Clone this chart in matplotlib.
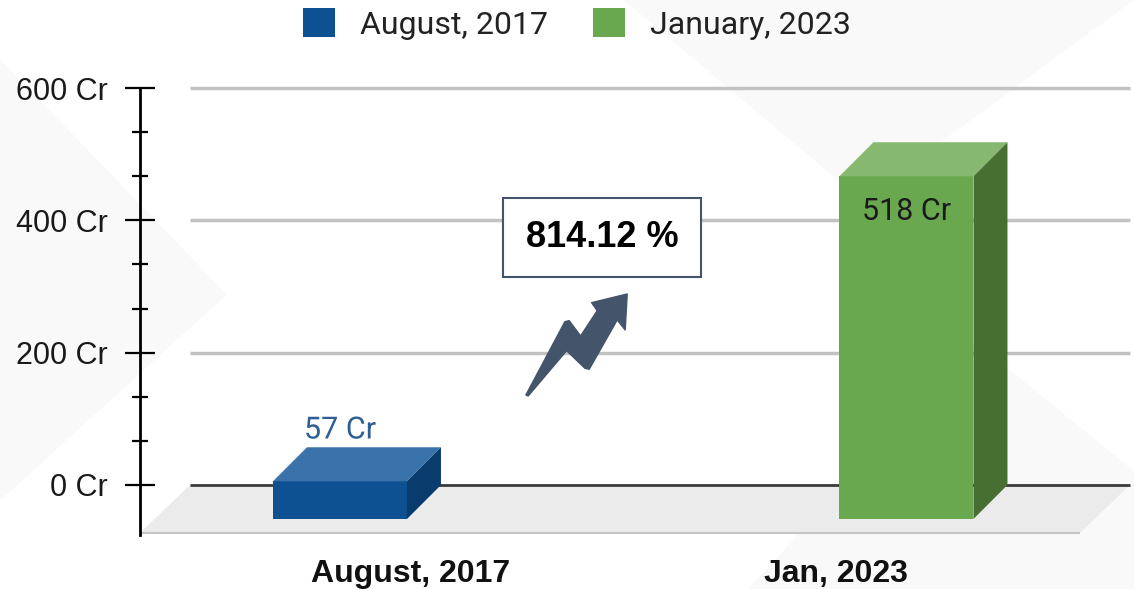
import matplotlib
matplotlib.use("Agg")
import matplotlib.pyplot as plt
import matplotlib.patheffects as pe
from matplotlib.patches import Polygon, Patch
from matplotlib.transforms import Affine2D, ScaledTranslation

# values in crore
categories = ["August, 2017", "Jan, 2023"]
series_names = ["August, 2017", "January, 2023"]
values = [57, 518]
value_labels = ["57 Cr", "518 Cr"]
growth_label = "814.12 %"
yticks = [0, 200, 400, 600]
ytick_labels = ["0 Cr", "200 Cr", "400 Cr", "600 Cr"]

front = ["#0e5193", "#6aa84f"]
top = ["#3a73aa", "#86b86f"]
side = ["#093b6c", "#476f32"]
label_colors = ["#2d5f96", "#1a1a1a"]

fig = plt.figure(figsize=(11.34, 5.89), dpi=100)
fig.patch.set_facecolor("white")

# faint diagonal panels in the background
bg = fig.add_axes([0, 0, 1, 1], zorder=-5)
bg.set_xlim(0, 1)
bg.set_ylim(0, 1)
bg.axis("off")
for pts in [[(0, 0.15), (0.2, 0.5), (0.0, 0.9)],
            [(0.55, 1.0), (0.76, 0.66), (1.0, 1.0)],
            [(0.66, 0.0), (0.86, 0.42), (1.0, 0.2), (1.0, 0.0)]]:
    bg.add_patch(Polygon(pts, closed=True, facecolor="#f9f9f9", edgecolor="none"))

ax = fig.add_axes([140 / 1134, 54 / 589, 994 / 1134, 447 / 589])
ax.set_facecolor("none")
ax.set_xlim(-0.353, 1.4016)
ax.set_ylim(-75.6, 600)

bar_w = 0.2365
dx, dy = 0.06, 51.4          # bar depth
fdx, fdy = 0.0883, 72.5      # floor depth
x_back = (-0.353 + fdx, 1.3945)

# floor
floor = Polygon([(x_back[0], 0), (x_back[1], 0), (x_back[1] - fdx, -fdy), (x_back[0] - fdx, -fdy)],
                closed=True, facecolor="#ebebeb", edgecolor="none", zorder=1, clip_on=False)
ax.add_patch(floor)
ax.plot([x_back[0] - fdx, x_back[1] - fdx], [-fdy, -fdy], color="#c4c4c4", lw=1.5, zorder=1.5,
        clip_on=False, solid_capstyle="butt")

# grid on the back wall
for v in yticks[1:]:
    ax.plot(x_back, [v, v], color="#c2c2c2", lw=2.5, zorder=1, clip_on=False, solid_capstyle="butt")
ax.plot(x_back, [0, 0], color="#3a3a3a", lw=2, zorder=1.6, clip_on=False, solid_capstyle="butt")

# 3d bars
for i, v in enumerate(values):
    x0, x1 = i - bar_w / 2, i + bar_w / 2
    yb, yt = -dy, v - dy
    ax.add_patch(Polygon([(x0, yb), (x1, yb), (x1, yt), (x0, yt)], facecolor=front[i], edgecolor="none", zorder=3))
    ax.add_patch(Polygon([(x0, yt), (x1, yt), (x1 + dx, v), (x0 + dx, v)], facecolor=top[i], edgecolor="none", zorder=3))
    ax.add_patch(Polygon([(x1, yb), (x1 + dx, 0), (x1 + dx, v), (x1, yt)], facecolor=side[i], edgecolor="none", zorder=3))

# value labels
ax.annotate(value_labels[0], xy=(0, values[0]), xytext=(0, 2), textcoords="offset points",
            ha="center", va="bottom", fontsize=22, family="Roboto", color=label_colors[0], zorder=5,
            path_effects=[pe.withStroke(linewidth=4, foreground="white")])
ax.annotate(value_labels[1], xy=(1, values[1] - dy), xytext=(0, -15), textcoords="offset points",
            ha="center", va="top", fontsize=22, family="Roboto", color=label_colors[1], zorder=5)

# growth box and arrow
ax.text(0.4625, 374, growth_label, ha="center", va="center", fontsize=26, fontweight="bold",
        family="Liberation Sans", color="black", zorder=6,
        bbox=dict(boxstyle="square,pad=0.62", facecolor="white", edgecolor="#44546a", lw=1.5))

arrow_shape = [(-101.3, 101), (-62.3, 27.7), (-58, 26.7), (-46.6, 42), (-30, 16.7), (-35.6, 8.7),
               (0, 0), (-2, 36), (-10, 26), (-38, 75.3), (-42.3, 74.3), (-60.6, 56.7), (-99, 102)]
arrow_tr = (Affine2D().scale(0.01, -0.01) + fig.dpi_scale_trans
            + ScaledTranslation(0.507, 288.7, ax.transData))
ax.add_patch(Polygon(arrow_shape, closed=True, facecolor="#44546a", edgecolor="#44546a", lw=1,
                     joinstyle="round", transform=arrow_tr, zorder=6, clip_on=False))

# axes styling
for s in ["top", "right", "bottom"]:
    ax.spines[s].set_visible(False)
ax.spines["left"].set_linewidth(2)
ax.set_yticks(yticks)
ax.set_yticklabels(ytick_labels, family="Liberation Sans", fontsize=22, color="#1a1a1a")
ax.set_yticks([m + k * 200 / 3 for m in yticks[:-1] for k in (1, 2)], minor=True)
ax.tick_params(axis="y", which="major", direction="inout", length=22, width=1.6, pad=12)
ax.tick_params(axis="y", which="minor", direction="inout", length=11.5, width=1.6)

ax.set_xticks([0.124, 0.876])
ax.set_xticklabels(categories, family="Liberation Sans", fontsize=23, fontweight="bold", color="#111111")
ax.tick_params(axis="x", length=0, pad=17)

handles = [Patch(facecolor=front[0], edgecolor="none"), Patch(facecolor=front[1], edgecolor="none")]
fig.legend(handles, series_names, loc="center", bbox_to_anchor=(577 / 1134, 1 - 24 / 589), ncol=2,
           frameon=False, prop=dict(family="Roboto", size=23), handlelength=1.0, handleheight=1.0,
           handletextpad=0.8, columnspacing=1.4, labelcolor="#222222")

fig.savefig("out.png", dpi=100)
